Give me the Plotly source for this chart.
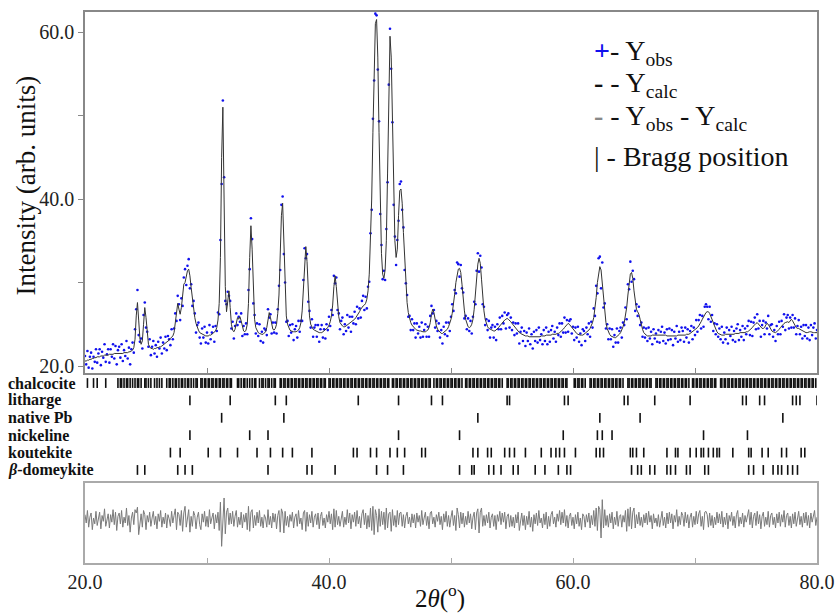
import numpy as np
import plotly.graph_objects as go

# ---------------- data ----------------
two_theta_start = 20.0
two_theta_step = 0.1

y_calc = [
    20.6,20.6,20.7,20.7,20.8,20.8,20.9,20.9,21.0,21.0,
    21.1,21.1,21.1,21.2,21.2,21.2,21.3,21.3,21.3,21.3,
    21.4,21.4,21.4,21.4,21.5,21.5,21.5,21.5,21.5,21.5,
    21.5,21.5,21.6,21.6,21.6,21.6,21.7,21.7,21.8,21.9,
    22.2,23.2,26.0,27.6,25.5,23.3,22.6,23.0,25.0,27.0,
    25.8,23.6,22.6,22.3,22.1,22.1,22.0,22.1,22.1,22.2,
    22.2,22.3,22.3,22.4,22.5,22.6,22.7,22.9,23.0,23.1,
    23.3,23.4,23.6,24.0,25.0,26.6,27.5,26.8,26.2,27.0,
    28.6,29.8,30.0,30.6,31.4,31.6,30.8,29.4,28.0,26.8,
    25.8,25.1,24.6,24.3,24.0,23.9,23.8,23.7,23.7,23.6,
    23.6,23.6,23.7,23.7,23.8,23.9,24.0,24.2,24.6,25.5,
    27.5,33.0,45.0,51.0,40.0,29.5,26.5,27.5,29.0,27.0,
    25.0,24.3,24.1,24.4,25.2,25.8,25.6,25.9,25.4,24.6,
    24.2,24.1,24.3,25.0,27.5,33.0,36.8,34.0,28.5,25.6,
    24.6,24.2,24.0,23.9,23.8,23.8,23.8,23.9,24.1,24.6,
    25.6,26.4,25.8,24.9,24.4,24.3,24.5,25.0,26.3,28.5,
    33.0,38.0,39.5,35.0,29.0,26.0,25.0,24.5,24.3,24.2,
    24.1,24.1,24.1,24.1,24.2,24.3,24.6,25.2,26.6,29.5,
    33.0,34.3,32.5,28.5,26.0,25.0,24.6,24.4,24.3,24.2,
    24.1,24.1,24.0,24.0,24.0,24.1,24.2,24.3,24.4,24.6,
    24.9,25.3,26.0,27.3,29.5,30.8,29.5,27.3,25.9,25.2,
    24.9,24.8,24.7,24.7,24.8,24.9,25.0,25.1,25.2,25.3,
    25.4,25.6,25.8,26.0,26.2,26.5,26.8,27.1,27.2,27.3,
    27.5,28.0,29.0,31.0,34.5,40.0,48.0,56.0,61.0,61.5,
    57.0,48.0,39.0,33.5,31.0,30.5,31.5,35.0,43.0,53.0,
    59.5,57.0,48.0,40.0,35.0,33.0,34.0,38.0,41.0,41.2,
    39.5,36.0,32.5,29.5,27.6,26.4,25.7,25.2,24.9,24.7,
    24.5,24.4,24.3,24.2,24.2,24.2,24.1,24.1,24.1,24.1,
    24.2,24.3,24.6,25.2,26.2,26.8,26.4,25.5,24.8,24.4,
    24.2,24.0,23.9,23.9,24.0,24.1,24.2,24.4,24.7,25.1,
    25.6,26.3,27.3,28.6,30.0,31.0,31.6,31.7,31.2,29.8,
    28.0,26.6,25.6,25.0,24.7,24.6,24.7,25.0,25.6,26.8,
    28.6,30.6,32.2,32.9,32.3,30.4,28.2,26.6,25.6,25.0,
    24.7,24.5,24.4,24.3,24.2,24.2,24.2,24.3,24.4,24.6,
    24.8,25.0,25.2,25.4,25.5,25.6,25.7,25.6,25.5,25.3,
    25.1,24.9,24.7,24.5,24.3,24.2,24.0,23.9,23.8,23.7,
    23.7,23.6,23.6,23.6,23.5,23.5,23.5,23.5,23.5,23.5,
    23.5,23.5,23.5,23.5,23.6,23.6,23.6,23.6,23.7,23.7,
    23.7,23.7,23.7,23.8,23.8,23.8,23.8,23.9,23.9,24.0,
    24.1,24.2,24.4,24.6,24.8,25.0,25.1,25.0,24.8,24.6,
    24.4,24.2,24.0,23.9,23.8,23.7,23.7,23.7,23.7,23.8,
    23.9,24.0,24.1,24.3,24.5,24.8,25.2,25.8,26.8,28.2,
    30.0,31.3,31.9,31.5,30.0,28.0,26.3,25.2,24.5,24.1,
    23.8,23.6,23.5,23.4,23.4,23.4,23.5,23.6,23.8,24.0,
    24.3,24.7,25.2,25.9,27.0,28.5,30.0,31.0,31.2,30.5,
    29.0,27.6,26.8,26.5,26.2,25.6,24.9,24.4,24.0,23.8,
    23.7,23.6,23.6,23.6,23.6,23.7,23.7,23.7,23.7,23.7,
    23.7,23.7,23.7,23.7,23.7,23.7,23.7,23.6,23.6,23.6,
    23.6,23.6,23.6,23.6,23.6,23.6,23.7,23.7,23.7,23.7,
    23.7,23.7,23.7,23.8,23.8,23.8,23.9,24.0,24.1,24.2,
    24.3,24.5,24.6,24.8,25.0,25.3,25.6,25.9,26.2,26.4,
    26.5,26.5,26.3,26.0,25.6,25.2,24.8,24.4,24.1,23.9,
    23.8,23.7,23.7,23.7,23.7,23.8,23.8,23.8,23.8,23.8,
    23.8,23.8,23.8,23.9,23.9,23.9,23.9,24.0,24.0,24.0,
    24.0,24.0,24.1,24.1,24.2,24.3,24.4,24.6,24.8,25.0,
    25.1,25.2,25.0,24.8,24.6,24.5,24.5,24.6,24.9,25.1,
    25.0,24.7,24.4,24.2,24.1,24.0,24.0,24.1,24.2,24.4,
    24.6,24.8,25.0,25.1,25.2,25.3,25.3,25.2,25.4,25.6,
    25.4,25.1,24.8,24.6,24.5,24.5,24.4,24.3,24.2,24.1,
    24.0,24.0,24.0,24.1,24.1,24.1,24.0,24.0,24.0,24.0,
    24.0,
]

# Yobs - Ycalc (difference curve)
y_diff = [
    0.6,-0.4,1.1,-0.9,0.3,0.8,-1.2,0.2,-0.5,1.0,
    -0.7,0.4,0.9,-1.1,0.5,-0.2,1.3,-0.8,0.1,0.7,
    -1.0,0.6,-0.3,1.2,-0.6,0.9,-1.3,0.4,0.8,-0.5,
    1.1,-0.9,0.3,-0.4,1.4,-0.7,0.5,-1.5,0.2,0.9,
    -0.6,1.2,0.8,1.5,-1.8,-0.4,0.7,-0.9,1.1,0.6,
    -1.2,0.5,-0.3,0.9,-0.8,0.2,1.0,-0.6,0.4,-1.1,
    0.7,-0.2,1.1,-0.9,0.3,-0.5,0.8,-1.0,0.6,0.1,
    -0.8,1.0,-0.4,0.5,1.3,-1.2,0.9,0.6,-0.7,1.1,
    -1.4,0.8,1.6,-0.9,0.6,1.2,-1.5,0.4,-0.8,1.0,
    0.5,-1.1,0.3,0.9,-0.6,-1.2,0.7,-0.3,1.0,-0.8,
    0.4,-0.9,1.2,-0.5,0.2,0.8,-1.1,0.6,-0.4,0.9,
    -1.3,2.1,-3.2,0.8,2.6,-1.7,0.9,1.4,-0.6,0.8,
    -0.5,1.0,-0.8,0.4,1.1,-0.9,0.3,-0.6,0.9,-1.0,
    0.6,-0.3,0.8,-1.2,1.6,-1.4,0.9,1.2,-1.0,0.5,
    -0.7,0.9,-0.4,1.1,-0.8,0.3,-1.0,0.6,0.2,-0.9,
    1.2,-0.6,0.4,-1.0,0.8,-0.3,0.7,-1.1,0.5,1.1,
    -1.5,1.3,0.8,-1.6,1.0,-0.7,0.4,-0.9,0.6,-0.2,
    0.9,-1.0,0.3,0.7,-0.8,1.1,-0.5,0.2,-1.2,0.8,
    1.1,-1.4,0.9,-0.8,0.6,-0.4,1.0,-0.9,0.3,0.7,
    -0.6,0.8,-1.1,0.4,0.9,-0.7,0.2,-1.0,0.6,-0.3,
    1.0,-0.5,0.7,-1.2,1.3,-0.9,1.1,-0.6,0.4,-0.8,
    0.5,1.0,-0.9,0.3,-0.6,1.2,-0.4,0.8,-1.1,0.6,
    -0.3,0.9,-0.8,1.1,-0.5,0.4,-1.0,0.7,1.2,-0.6,
    0.8,-1.1,0.5,-0.9,1.4,-1.3,1.6,-1.8,1.2,0.5,
    -1.5,1.3,-0.8,1.0,-0.6,0.9,-1.2,1.4,-1.0,0.7,
    0.9,-1.4,1.2,-0.7,0.5,-0.9,1.1,-0.6,0.8,0.9,
    -0.8,0.6,-1.0,0.4,0.9,-0.5,0.3,-0.9,0.7,-0.4,
    0.6,-1.0,0.8,-0.3,0.5,-0.8,1.1,-0.6,0.2,0.9,
    -0.7,0.4,-1.1,0.8,1.0,-0.5,0.3,-0.9,0.6,-0.2,
    0.9,-0.6,0.4,-1.2,0.7,-0.3,1.0,-0.8,0.5,-0.9,
    0.3,1.1,-0.7,0.5,-1.3,1.4,0.6,-1.0,0.9,-0.5,
    0.8,-0.9,0.4,-0.6,1.0,-0.4,0.7,-1.1,0.3,0.9,
    -1.2,0.8,1.3,-1.6,0.9,1.4,-0.8,0.5,-0.7,0.6,
    -0.4,0.9,-1.0,0.3,0.7,-0.8,0.5,-1.2,0.6,-0.2,
    1.0,-0.6,0.8,-0.3,0.9,-1.1,0.4,0.7,-0.9,0.5,
    -0.8,0.3,-1.0,0.6,-0.4,0.9,-1.3,0.2,0.8,-0.7,
    0.5,-1.2,0.4,-0.6,1.0,-0.9,0.3,-1.4,0.6,-0.5,
    0.8,-0.7,1.1,-0.4,0.2,-1.0,0.7,-0.6,0.9,-1.1,
    0.4,-0.8,0.6,1.0,-0.5,0.3,-0.9,0.7,-0.2,1.1,
    -0.6,0.9,-0.4,1.2,-0.8,0.5,-1.0,0.4,0.8,-0.7,
    0.3,-1.1,0.6,-0.5,0.9,-0.8,0.2,-1.2,0.7,0.4,
    -0.9,0.6,-0.3,0.8,-1.0,0.5,-0.6,1.1,-0.8,1.4,
    -1.3,1.6,1.2,-2.2,2.4,-1.0,1.2,-0.7,0.5,-0.9,
    0.7,-0.4,0.9,-1.1,0.3,-0.6,1.0,-0.8,0.4,0.6,
    -0.9,0.5,-0.3,1.1,-1.4,1.3,-0.8,1.5,-1.1,0.9,
    1.4,-1.0,0.6,-0.5,0.9,-0.7,0.3,-0.9,0.6,-0.4,
    0.8,-0.6,1.0,-0.3,0.5,-1.1,0.7,-0.4,0.2,-0.8,
    0.6,-0.9,0.4,1.0,-0.7,0.3,-1.0,0.8,-0.5,0.9,
    -0.4,0.7,-1.1,0.5,-0.3,1.2,-0.8,0.4,-0.6,0.9,
    0.5,-0.8,0.9,-0.4,0.6,-1.0,0.3,0.8,-0.9,0.4,
    -0.6,1.0,-0.5,0.7,1.1,-0.8,0.4,-1.2,0.9,1.0,
    0.6,-0.9,0.8,-0.7,0.5,-1.0,0.3,-0.6,0.9,-0.4,
    0.7,-0.5,1.0,-0.9,0.3,-0.6,0.8,-1.1,0.5,-0.2,
    0.9,-0.7,0.4,-1.0,0.6,1.1,-0.8,0.3,-0.5,0.8,
    -0.9,0.5,-0.3,0.7,1.2,-0.6,0.9,-1.0,0.4,0.8,
    -0.7,1.0,-0.5,0.6,-1.1,0.4,0.9,-0.8,0.3,-0.6,
    1.0,-0.9,0.5,0.8,-0.6,0.3,-1.0,0.7,-0.4,0.9,
    -0.8,0.6,-0.3,1.1,-0.9,0.5,0.8,-0.7,0.4,-1.0,
    0.7,-0.5,0.9,-0.8,0.3,1.0,-0.6,0.4,-0.9,0.8,
    -0.4,0.9,-0.7,0.5,-1.0,0.8,-0.3,0.6,1.1,-0.7,
    0.3,
]

phase_names = ["chalcocite", "litharge", "native Pb", "nickeline",
               "koutekite", "<i>β</i>-domeykite"]

bragg_chalcocite = [
    20.2, 20.7, 21.0, 21.7,
    22.7, 22.9, 23.0, 23.2, 23.4, 23.5, 23.7, 23.9,
    24.1, 24.3, 24.4, 24.6, 24.9, 25.0, 25.2, 25.4,
    25.7, 25.9, 26.1, 26.3,
    26.7, 26.9, 27.0, 27.2, 27.4, 27.5, 27.7, 27.9, 28.0, 28.2, 28.4, 28.5,
    28.7, 28.9, 29.1, 29.2,
    29.5, 29.6, 29.8, 29.9, 30.1, 30.2, 30.4, 30.5, 30.7, 30.8, 31.0, 31.1,
    31.3, 31.4, 31.6, 31.7, 31.9, 32.0,
    32.5, 32.6, 32.8, 33.0, 33.1, 33.3, 33.5, 33.7, 33.9, 34.0,
    34.3, 34.5, 34.6, 34.8, 35.0, 35.1, 35.3, 35.5, 35.6,
    36.0, 36.1, 36.3, 36.4, 36.6, 36.7, 36.9, 37.0, 37.2, 37.3, 37.5, 37.6,
    37.8, 37.9, 38.1, 38.2, 38.4, 38.5, 38.7, 38.8, 39.0, 39.1, 39.3, 39.4,
    39.6, 39.7,
    40.0, 40.1, 40.3, 40.4, 40.6, 40.7, 40.9, 41.0, 41.2, 41.3, 41.5, 41.6,
    41.8, 41.9, 42.1, 42.2, 42.4, 42.5, 42.7, 42.8, 43.0, 43.1, 43.3, 43.4,
    43.6, 43.7, 43.9, 44.0, 44.2, 44.3, 44.5, 44.6, 44.8, 44.9,
    45.2, 45.3, 45.5, 45.6, 45.8, 45.9, 46.1, 46.2, 46.4, 46.5, 46.7, 46.8,
    47.0, 47.1, 47.3, 47.4, 47.6, 47.7, 47.9, 48.0, 48.2, 48.3, 48.6,
    48.8, 48.9, 49.1, 49.2, 49.4, 49.5, 49.7, 49.8,
    50.0, 50.1, 50.3, 50.4, 50.6, 50.7, 50.9, 51.2, 51.3, 51.5, 51.6, 51.8,
    51.9, 52.1, 52.2, 52.4, 52.5, 52.7, 52.8, 53.0, 53.1, 53.3, 53.4, 53.6,
    53.7, 53.9, 54.0, 54.2, 54.6, 54.7, 54.9, 55.0, 55.2, 55.3, 55.5, 55.6,
    55.8, 55.9, 56.1, 56.2, 56.4, 56.5, 56.7, 56.8, 57.0, 57.1, 57.3, 57.4,
    57.6, 57.7, 57.9, 58.0, 58.2, 58.3, 58.5, 58.6, 58.8, 58.9, 59.1, 59.2,
    59.4, 59.5, 60.1, 60.2, 60.4, 60.5, 60.7, 60.8, 61.0, 61.4, 61.5, 61.7,
    61.8, 62.0, 62.1, 62.3, 62.4, 62.6, 62.7, 62.9, 63.0, 63.2, 63.3, 63.5,
    63.6, 63.8, 63.9, 64.1, 64.5, 64.6, 64.8, 64.9, 65.1, 65.2, 65.4, 65.5,
    65.7, 65.8, 66.0, 66.1, 66.3, 66.4, 66.8, 66.9, 67.1, 67.2, 67.4, 67.5,
    67.7, 67.8, 68.0, 68.1, 68.3, 68.4, 68.6, 68.7, 68.9, 69.0, 69.2, 69.3,
    69.5, 69.8, 69.9, 70.1, 70.2, 70.4, 70.5, 70.7, 70.8, 71.0, 71.1, 71.3,
    71.4, 71.6, 71.7, 72.1, 72.2, 72.4, 72.5, 72.7, 72.8, 73.0, 73.1, 73.3,
    73.4, 73.6, 73.7, 73.9, 74.0, 74.2, 74.3, 74.5, 74.6, 74.8, 74.9, 75.1,
    75.2, 75.4, 75.5, 75.7, 75.8, 76.0, 76.1, 76.3, 76.4, 76.6, 76.7, 76.9,
    77.0, 77.2, 77.3, 77.5, 77.6, 77.8, 77.9, 78.1, 78.2, 78.4, 78.5, 78.7,
    78.8, 79.0, 79.1, 79.3, 79.4, 79.6, 79.7, 79.9,
]
bragg_litharge = [28.6, 31.9, 35.6, 36.5, 42.4, 45.7, 48.4, 49.3, 54.6, 54.8,
                  59.3, 59.6, 64.2, 64.5, 66.7, 69.6, 73.9, 74.2, 75.3, 75.7,
                  78.0, 78.3, 78.6, 80.0]
bragg_native_pb = [31.2, 36.3, 52.2, 62.2, 65.5, 77.2]
bragg_nickeline = [28.6, 33.5, 35.0, 45.7, 50.7, 59.2, 62.0, 62.4, 63.2, 70.7, 74.3]
bragg_koutekite = [27.0, 27.8, 30.1, 31.1, 32.5, 34.1, 35.2, 36.2, 37.0, 38.6,
                   42.0, 42.3, 43.4, 43.9, 45.0, 45.6, 46.2, 47.6, 47.9, 51.8,
                   52.2, 53.0, 53.3, 54.4, 54.8, 55.2, 56.1, 57.4, 58.2, 58.6,
                   58.9, 59.3, 60.2, 61.9, 62.2, 62.5, 64.7, 64.9, 65.2, 65.8,
                   67.7, 68.4, 68.6, 69.6, 70.1, 70.5, 70.7, 71.1, 71.5, 71.8,
                   72.0, 73.1, 74.4, 74.6, 75.5, 76.0, 77.1, 77.5, 78.7, 79.0]
bragg_domeykite = [24.3, 24.9, 27.6, 28.2, 28.8, 35.0, 38.2, 38.6, 40.5, 43.9,
                   44.8, 46.1, 50.7, 51.7, 51.9, 53.1, 53.5, 54.1, 55.1, 55.5,
                   56.9, 57.7, 58.8, 59.5, 59.8, 64.8, 65.3, 65.6, 66.3, 66.7,
                   67.7, 68.0, 68.4, 69.3, 69.6, 70.8, 71.1, 74.4, 74.8, 75.6,
                   76.4, 76.8, 77.1, 77.6, 78.0, 78.4]

bragg_lists = [bragg_chalcocite, bragg_litharge, bragg_native_pb,
               bragg_nickeline, bragg_koutekite, bragg_domeykite]

# ---------------- derived ----------------
two_theta = np.round(two_theta_start + two_theta_step * np.arange(len(y_calc)), 2)
y_calc_arr = np.array(y_calc)
y_diff_arr = np.array(y_diff)
y_obs = y_calc_arr + y_diff_arr

SERIF = "Liberation Serif"

fig = go.Figure()

# main panel
fig.add_trace(go.Scatter(x=two_theta, y=y_obs, mode="markers",
                         marker=dict(color="#1010ee", size=2.6),
                         xaxis="x", yaxis="y", hoverinfo="skip"))
fig.add_trace(go.Scatter(x=two_theta, y=y_calc_arr, mode="lines",
                         line=dict(color="#333333", width=1),
                         xaxis="x", yaxis="y", hoverinfo="skip"))

# Bragg positions panel
n_rows = len(bragg_lists)
for i, pos in enumerate(bragg_lists):
    row = n_rows - 1 - i
    fig.add_trace(go.Scatter(x=pos, y=[row] * len(pos), mode="markers",
                             marker=dict(symbol="line-ns", size=7,
                                         line=dict(width=1.6, color="#111111")),
                             xaxis="x3", yaxis="y3", hoverinfo="skip"))
    fig.add_annotation(text="<b>" + phase_names[i] + "</b>", xref="paper",
                       yref="y3", x=-0.108, y=row, xanchor="left",
                       yanchor="middle", showarrow=False,
                       font=dict(family=SERIF, size=16, color="#111111"))

# difference panel
fig.add_trace(go.Scatter(x=two_theta, y=y_diff_arr, mode="lines",
                         line=dict(color="#7a7a7a", width=1),
                         xaxis="x2", yaxis="y2", hoverinfo="skip"))

main_bottom = 0.3448
diff_top = 0.1452

fig.update_layout(
    width=840, height=614,
    margin=dict(l=85, r=23, t=12, b=51, autoexpand=False),
    paper_bgcolor="white", plot_bgcolor="white",
    showlegend=False,
    xaxis=dict(domain=[0, 1], range=[20, 80], anchor="y", automargin=False,
               showline=True, mirror=True, linecolor="#888888", linewidth=1.5,
               ticks="inside", ticklen=5, tickcolor="#888888",
               tickvals=[30, 40, 50, 60, 70], showticklabels=False,
               showgrid=False, zeroline=False),
    yaxis=dict(domain=[main_bottom, 1], range=[19.16, 62.4], anchor="x",
               automargin=False,
               showline=True, mirror=True, linecolor="#888888", linewidth=1.5,
               ticks="outside", ticklen=5, tickcolor="#888888",
               tickvals=[20, 40, 60], ticktext=["20.0", "40.0", "60.0"],
               minor=dict(tickmode="array", tickvals=[30, 50], ticks="outside",
                          ticklen=5, tickcolor="#888888", showgrid=False),
               tickfont=dict(family=SERIF, size=20, color="#222222"),
               showgrid=False, zeroline=False),
    xaxis3=dict(domain=[0, 1], range=[20, 80], anchor="y3", visible=False),
    yaxis3=dict(domain=[diff_top, main_bottom], range=[-0.75, 5.575],
                anchor="x3", visible=False),
    xaxis2=dict(domain=[0, 1], range=[20, 80], anchor="y2", automargin=False,
                showline=True, mirror=True, linecolor="#aaaaaa", linewidth=1.5,
                ticks="inside", ticklen=5, tickcolor="#aaaaaa",
                tickvals=[20, 40, 60, 80],
                ticktext=["20.0", "40.0", "60.0", "80.0"],
                minor=dict(tickmode="array", tickvals=[30, 50, 70],
                           ticks="inside", ticklen=5, tickcolor="#aaaaaa",
                           showgrid=False),
                tickfont=dict(family=SERIF, size=20, color="#222222"),
                showgrid=False, zeroline=False),
    yaxis2=dict(domain=[0, diff_top], range=[-5.2, 4.4], anchor="x2",
                automargin=False,
                showline=True, mirror=True, linecolor="#aaaaaa", linewidth=1.5,
                ticks="", showticklabels=False, showgrid=False, zeroline=False),
)

# axis titles
fig.add_annotation(text="Intensity (arb. units)", xref="paper", yref="paper",
                   x=-0.080, y=0.686, textangle=-90, showarrow=False,
                   xanchor="center", yanchor="middle",
                   font=dict(family=SERIF, size=27, color="#111111"))
fig.add_annotation(text="2<i>θ</i>(<sup>o</sup>)", xref="paper", yref="paper",
                   x=0.485, y=-0.060, showarrow=False,
                   xanchor="center", yanchor="middle",
                   font=dict(family=SERIF, size=25, color="#111111"))

# legend (text entries)
legend_items = [
    ("<span style='color:#1010ee'><b>+</b></span>- Y<sub>obs</sub>", 0.927),
    ("<b>- </b>- Y<sub>calc</sub>", 0.869),
    ("<span style='color:#888888'><b>- </b></span>- Y<sub>obs</sub> - Y<sub>calc</sub>", 0.809),
    ("| - Bragg position", 0.737),
]
for txt, yy in legend_items:
    fig.add_annotation(text=txt, xref="paper", yref="paper", x=0.693, y=yy,
                       xanchor="left", yanchor="middle", showarrow=False,
                       font=dict(family=SERIF, size=28, color="#111111"))

fig.write_html("out.html",
               config={"displayModeBar": False},
               post_script="document.body.style.margin='0px';"
                           "document.body.style.padding='0px';")
